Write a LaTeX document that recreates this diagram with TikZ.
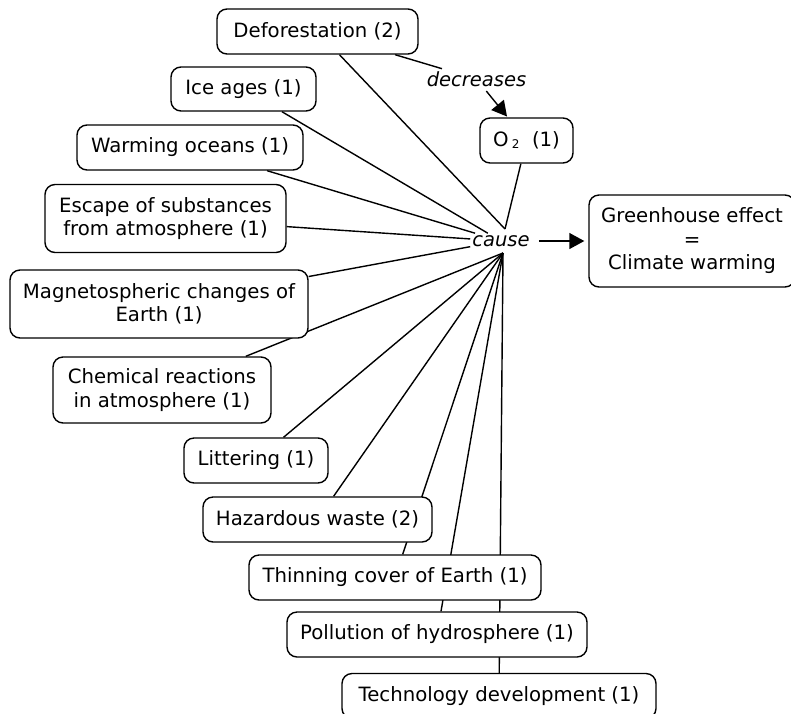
\documentclass[tikz,border=0pt]{standalone}
\usepackage{fontspec}
\setmainfont{DejaVu Sans}
\usetikzlibrary{arrows.meta}
\pgfdeclarelayer{bg}
\pgfsetlayers{bg,main}
\tikzset{
  concept/.style={draw=black, line width=1.4pt, rounded corners=10pt, fill=white,
    align=center, inner sep=0pt, font=\fontsize{19.7}{23.5}\selectfont},
  linkword/.style={inner sep=2pt, font=\fontsize{19.5}{23}\selectfont\itshape},
  conn/.style={line width=1.4pt, draw=black},
  arr/.style={conn, -{Triangle[length=15pt,width=16pt]}}
}
\begin{document}
\begin{tikzpicture}[x=1pt,y=-1pt]
\useasboundingbox (0,0) rectangle (791,713);
\node[concept, minimum width=201pt, minimum height=45pt] (defo) at (317.5,31.5) {Deforestation (2)};
\node[concept, minimum width=145pt, minimum height=44pt] (ice) at (243.5,89) {Ice ages (1)};
\node[concept, minimum width=226pt, minimum height=45pt] (warm) at (190,147.5) {Warming oceans (1)};
\node[concept, minimum width=241pt, minimum height=68pt] (esc) at (165.5,218.5) {Escape of substances\\from atmosphere (1)};
\node[concept, minimum width=298pt, minimum height=68pt] (mag) at (159,304) {Magnetospheric changes of\\Earth (1)};
\node[concept, minimum width=218pt, minimum height=66pt] (chem) at (162,390) {Chemical reactions\\in atmosphere (1)};
\node[concept, minimum width=144pt, minimum height=45pt] (lit) at (256,460.5) {Littering (1)};
\node[concept, minimum width=229pt, minimum height=45pt] (haz) at (317.5,519.5) {Hazardous waste (2)};
\node[concept, minimum width=292pt, minimum height=45pt] (thin) at (395,577.5) {Thinning cover of Earth (1)};
\node[concept, minimum width=300pt, minimum height=45pt] (poll) at (437,634.5) {Pollution of hydrosphere (1)};
\node[concept, minimum width=314pt, minimum height=45pt] (tech) at (499,696) {Technology development (1)};
\node[concept, minimum width=93pt, minimum height=45pt] (otwo) at (526.5,140.5) {O\,{\fontsize{12}{12}\selectfont\raisebox{-2pt}{2}}\ \ (1)};
\node[concept, minimum width=206pt, minimum height=92pt] (gh) at (692,241) {Greenhouse effect\\=\\Climate warming};
\node[linkword] (cause) at (501,241) {cause};
\node[linkword] (dec) at (476.5,79) {decreases};
\coordinate (cb) at (503,253);
\coordinate (ct) at (505,229);
\begin{pgfonlayer}{bg}
\draw[conn] (ct) -- (defo);
\draw[conn] (ct) -- (otwo);
\draw[conn] (cause) -- (ice);
\draw[conn] (cause) -- (warm);
\draw[conn] (cause) -- (esc);
\draw[conn] (cause) -- (mag);
\draw[conn] (cb) -- (chem);
\draw[conn] (cb) -- (lit);
\draw[conn] (cb) -- (haz);
\draw[conn] (cb) -- (thin);
\draw[conn] (cb) -- (poll);
\draw[conn] (cb) -- (tech);
\draw[conn, shorten >=2pt] (defo) -- (dec);
\end{pgfonlayer}
\draw[arr, shorten <=3pt, shorten >=1pt] (dec) -- (otwo);
\draw[arr, shorten <=7pt, shorten >=4pt] (cause) -- (gh);
\end{tikzpicture}
\end{document}
